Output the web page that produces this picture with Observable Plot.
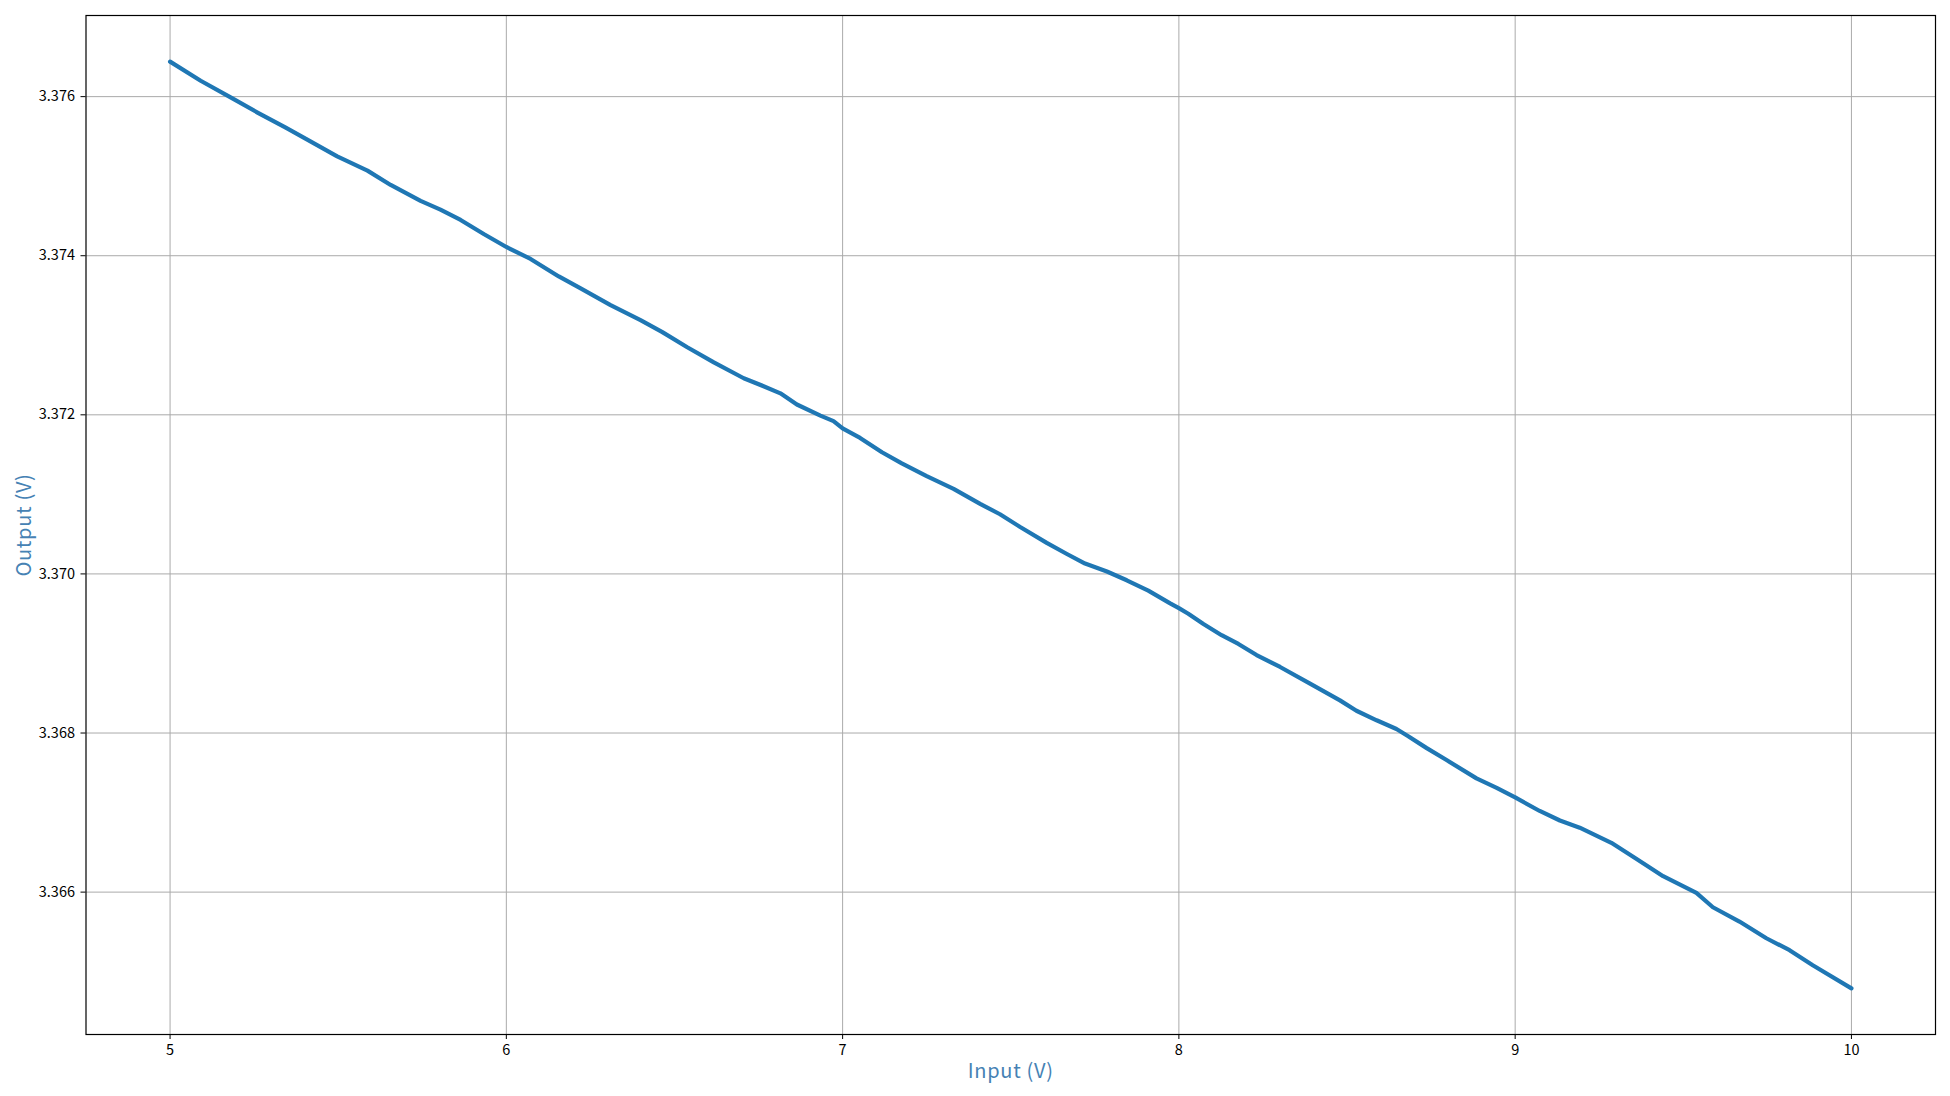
<!DOCTYPE html>
<html>
<head>
<meta charset="utf-8">
<script src="https://cdn.jsdelivr.net/npm/d3@7"></script>
<script src="https://cdn.jsdelivr.net/npm/@observablehq/plot@0.6"></script>
<style>
  html, body { margin: 0; padding: 0; background: #fff; }
  #chart { width: 1950px; height: 1096px; }
</style>
</head>
<body>
<div id="chart"></div>
<script>
// Input voltage (V)
const inputV = [
  5.000, 5.091, 5.180, 5.260, 5.344, 5.408, 5.497, 5.587, 5.656, 5.745,
  5.804, 5.864, 5.934, 6.000, 6.072, 6.156, 6.221, 6.310, 6.399, 6.464,
  6.538, 6.617, 6.706, 6.765, 6.815, 6.864, 6.934, 6.973, 7.000, 7.052,
  7.117, 7.176, 7.250, 7.330, 7.409, 7.468, 7.528, 7.607, 7.667, 7.721,
  7.786, 7.845, 7.909, 7.974, 8.000, 8.028, 8.073, 8.127, 8.177, 8.231,
  8.301, 8.390, 8.479, 8.528, 8.588, 8.647, 8.682, 8.737, 8.796, 8.885,
  8.945, 9.000, 9.073, 9.133, 9.192, 9.286, 9.360, 9.440, 9.539, 9.588,
  9.667, 9.747, 9.816, 9.885, 10.000
];
// Output voltage (V)
const outputV = [
  3.37644, 3.37620, 3.37599, 3.37580, 3.37561, 3.37546, 3.37525, 3.37507, 3.37489, 3.37469,
  3.37458, 3.37445, 3.37427, 3.37411, 3.37396, 3.37374, 3.37359, 3.37338, 3.37319, 3.37304,
  3.37285, 3.37266, 3.37246, 3.37236, 3.37227, 3.37213, 3.37199, 3.37192, 3.37183, 3.37171,
  3.37153, 3.37139, 3.37123, 3.37107, 3.37088, 3.37075, 3.37059, 3.37039, 3.37025, 3.37013,
  3.37003, 3.36992, 3.36979, 3.36963, 3.36957, 3.36950, 3.36937, 3.36923, 3.36912, 3.36898,
  3.36883, 3.36862, 3.36841, 3.36828, 3.36816, 3.36805, 3.36796, 3.36781, 3.36766, 3.36743,
  3.36731, 3.36719, 3.36702, 3.36690, 3.36681, 3.36662, 3.36642, 3.36620, 3.36599, 3.36581,
  3.36563, 3.36542, 3.36527, 3.36508, 3.36479
];
const xTicks = [5, 6, 7, 8, 9, 10];
const yTicks = [3.366, 3.368, 3.370, 3.372, 3.374, 3.376];
const xLabel = "Input (V)";
const yLabel = "Output (V)";

const data = inputV.map((x, i) => ({x, y: outputV[i]}));

const chart = Plot.plot({
  width: 1950,
  height: 1096,
  marginLeft: 85.5,
  marginRight: 15,
  marginTop: 15,
  marginBottom: 62,
  x: {domain: [4.75, 10.25]},
  y: {domain: [3.36421, 3.37702]},
  style: {
    fontFamily: "'Noto Sans CJK SC', 'DejaVu Sans', sans-serif",
    fontSize: "14.5px",
    color: "black",
    background: "white"
  },
  marks: [
    Plot.gridX(xTicks, {stroke: "#aaaaaa", strokeOpacity: 1, strokeWidth: 1}),
    Plot.gridY(yTicks, {stroke: "#aaaaaa", strokeOpacity: 1, strokeWidth: 1}),
    Plot.line(data, {x: "x", y: "y", stroke: "#1f77b4", strokeWidth: 4.2}),
    Plot.frame({stroke: "black", strokeWidth: 1.2}),
    Plot.axisX(xTicks, {tickSize: 5, tickPadding: 5, label: null, tickFormat: d => String(d)}),
    Plot.axisY(yTicks, {tickSize: 5, tickPadding: 6, label: null, tickFormat: d3.format(".3f")}),
    Plot.text([xLabel], {frameAnchor: "bottom", dy: 43, textAnchor: "middle", text: d => d, fill: "steelblue", fontSize: 20}),
    Plot.text([yLabel], {frameAnchor: "left", dx: -61.5, rotate: -90, textAnchor: "middle", text: d => d, fill: "steelblue", fontSize: 20})
  ]
});
chart.querySelectorAll("text").forEach(t => {
  if (t.textContent === xLabel || t.textContent === yLabel) t.setAttribute("letter-spacing", "0.7");
});
document.getElementById("chart").appendChild(chart);
</script>
</body>
</html>
